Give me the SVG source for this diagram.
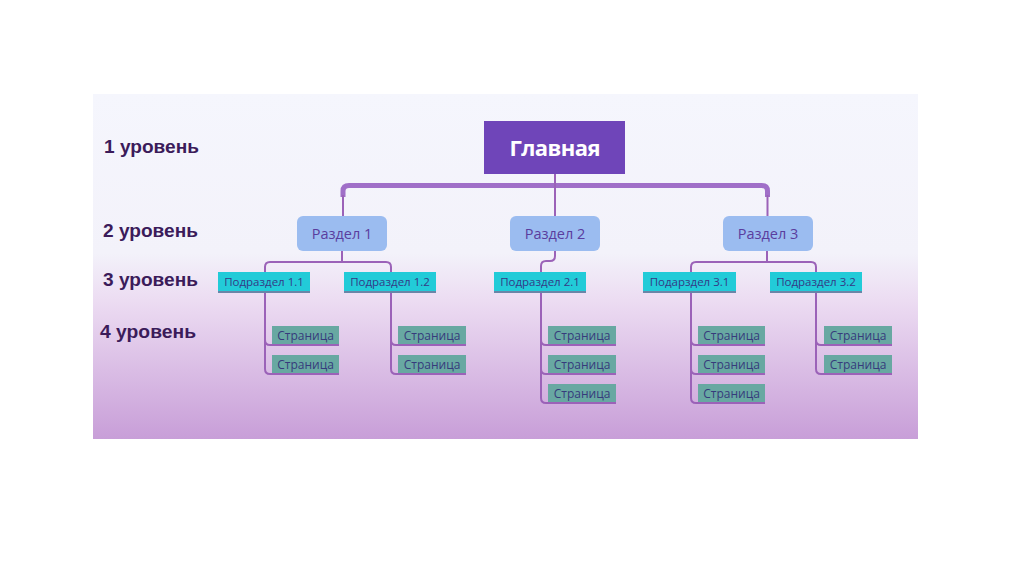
<svg xmlns="http://www.w3.org/2000/svg" width="1024" height="574" viewBox="0 0 1024 574">
  <defs>
    <linearGradient id="bg" x1="0" y1="0" x2="0" y2="1">
      <stop offset="0" stop-color="#f5f6fd"/>
      <stop offset="0.46" stop-color="#f3f2fa"/>
      <stop offset="0.6" stop-color="#ecdcf2"/>
      <stop offset="1" stop-color="#c89ed8"/>
    </linearGradient>
    <style>
      .lvl { font-family: "Liberation Sans", Arial, sans-serif; font-weight: bold; font-size: 19px; fill: #3b1b5a; }
      .main { fill: #6f45b9; }
      .maintxt { font-family: "Open Sans", "Noto Sans", sans-serif; font-weight: bold; font-size: 22px; fill: #ffffff; text-anchor: middle; }
      .sec { fill: #9bbcf0; }
      .sectxt { font-family: "Open Sans", "Noto Sans", sans-serif; font-size: 14.5px; fill: #5a3d9e; text-anchor: middle; }
      .sub { fill: #22cbd8; }
      .subline { stroke: #6a86a8; stroke-width: 2; }
      .subtxt { font-family: "Open Sans", "Noto Sans", sans-serif; font-size: 11.5px; fill: #343a86; text-anchor: middle; }
      .page { fill: #68a8a2; }
      .pagetxt { font-family: "Open Sans", "Noto Sans", sans-serif; font-size: 12px; fill: #363b7c; text-anchor: middle; }
      .conn { fill: none; stroke: #9b62b8; stroke-width: 2; }
      .bar { fill: none; stroke: #a06fc8; stroke-width: 5; }
    </style>
  </defs>
  <rect x="0" y="0" width="1024" height="574" fill="#ffffff"/>
  <rect x="93" y="94" width="825" height="345" fill="url(#bg)"/>

  <g id="levels">
    <text class="lvl" x="104" y="153" textLength="95" lengthAdjust="spacingAndGlyphs">1 уровень</text>
    <text class="lvl" x="103" y="237" textLength="95" lengthAdjust="spacingAndGlyphs">2 уровень</text>
    <text class="lvl" x="103" y="286" textLength="95" lengthAdjust="spacingAndGlyphs">3 уровень</text>
    <text class="lvl" x="100" y="338" textLength="96" lengthAdjust="spacingAndGlyphs">4 уровень</text>
  </g>

  <g id="connectors">
    <path class="bar" d="M343 197 V191 Q343 185.5 349 185.5 H761.5 Q767.5 185.5 767.5 191 V197"/>
    <path class="conn" d="M555 174 V186" stroke-width="3"/>
    <path class="conn" d="M343 195 V216 M767.5 195 V216 M555 186 V216"/>
    <path class="conn" d="M342 251 V262 M265 272 V267 Q265 262 270 262 H386 Q391 262 391 267 V272"/>
    <path class="conn" d="M555 251 V256 Q555 261 550 261 H546 Q541 261 541 266 V272"/>
    <path class="conn" d="M767 251 V262 M691 272 V267 Q691 262 696 262 H811 Q816 262 816 267 V272"/>
    <path class="conn" d="M265 292 V369 Q265 374 270 374 H339 M265 340 Q265 345 270 345 H339"/>
    <path class="conn" d="M391 292 V369 Q391 374 396 374 H466 M391 340 Q391 345 396 345 H466"/>
    <path class="conn" d="M541 292 V398 Q541 403 546 403 H616 M541 340 Q541 345 546 345 H616 M541 369 Q541 374 546 374 H616"/>
    <path class="conn" d="M691 292 V398 Q691 403 696 403 H765 M691 340 Q691 345 696 345 H765 M691 369 Q691 374 696 374 H765"/>
    <path class="conn" d="M816 292 V369 Q816 374 821 374 H892 M816 340 Q816 345 821 345 H892"/>
  </g>

  <g id="glavnaya">
    <rect class="main" x="484" y="121" width="141" height="53"/>
    <text class="maintxt" x="555" y="156" textLength="91">Главная</text>
  </g>

  <g id="razdel1">
    <rect class="sec" x="297" y="216" width="90" height="35" rx="6"/>
    <text class="sectxt" x="342" y="239">Раздел 1</text>
  </g>
  <g id="razdel2">
    <rect class="sec" x="510" y="216" width="90" height="35" rx="6"/>
    <text class="sectxt" x="555" y="239">Раздел 2</text>
  </g>
  <g id="razdel3">
    <rect class="sec" x="723" y="216" width="90" height="35" rx="6"/>
    <text class="sectxt" x="768" y="239">Раздел 3</text>
  </g>

  <g id="sub11">
    <rect class="sub" x="218" y="272" width="92" height="20"/>
    <line class="subline" x1="218" y1="292" x2="310" y2="292"/>
    <text class="subtxt" x="264" y="286">Подраздел 1.1</text>
  </g>
  <g id="sub12">
    <rect class="sub" x="344" y="272" width="92" height="20"/>
    <line class="subline" x1="344" y1="292" x2="436" y2="292"/>
    <text class="subtxt" x="390" y="286">Подраздел 1.2</text>
  </g>
  <g id="sub21">
    <rect class="sub" x="494" y="272" width="92" height="20"/>
    <line class="subline" x1="494" y1="292" x2="586" y2="292"/>
    <text class="subtxt" x="540" y="286">Подраздел 2.1</text>
  </g>
  <g id="sub31">
    <rect class="sub" x="643" y="272" width="93" height="20"/>
    <line class="subline" x1="643" y1="292" x2="736" y2="292"/>
    <text class="subtxt" x="689.5" y="286">Подарздел 3.1</text>
  </g>
  <g id="sub32">
    <rect class="sub" x="770" y="272" width="92" height="20"/>
    <line class="subline" x1="770" y1="292" x2="862" y2="292"/>
    <text class="subtxt" x="816" y="286">Подраздел 3.2</text>
  </g>

  <g id="page11a"><rect class="page" x="272" y="326" width="67" height="18"/><text class="pagetxt" x="305.5" y="340">Страница</text></g>
  <g id="page11b"><rect class="page" x="272" y="355" width="67" height="18"/><text class="pagetxt" x="305.5" y="369">Страница</text></g>
  <g id="page12a"><rect class="page" x="398" y="326" width="68" height="18"/><text class="pagetxt" x="432" y="340">Страница</text></g>
  <g id="page12b"><rect class="page" x="398" y="355" width="68" height="18"/><text class="pagetxt" x="432" y="369">Страница</text></g>
  <g id="page21a"><rect class="page" x="548" y="326" width="68" height="18"/><text class="pagetxt" x="582" y="340">Страница</text></g>
  <g id="page21b"><rect class="page" x="548" y="355" width="68" height="18"/><text class="pagetxt" x="582" y="369">Страница</text></g>
  <g id="page21c"><rect class="page" x="548" y="384" width="68" height="18"/><text class="pagetxt" x="582" y="398">Страница</text></g>
  <g id="page31a"><rect class="page" x="698" y="326" width="67" height="18"/><text class="pagetxt" x="731.5" y="340">Страница</text></g>
  <g id="page31b"><rect class="page" x="698" y="355" width="67" height="18"/><text class="pagetxt" x="731.5" y="369">Страница</text></g>
  <g id="page31c"><rect class="page" x="698" y="384" width="67" height="18"/><text class="pagetxt" x="731.5" y="398">Страница</text></g>
  <g id="page32a"><rect class="page" x="824" y="326" width="68" height="18"/><text class="pagetxt" x="858" y="340">Страница</text></g>
  <g id="page32b"><rect class="page" x="824" y="355" width="68" height="18"/><text class="pagetxt" x="858" y="369">Страница</text></g>
</svg>
